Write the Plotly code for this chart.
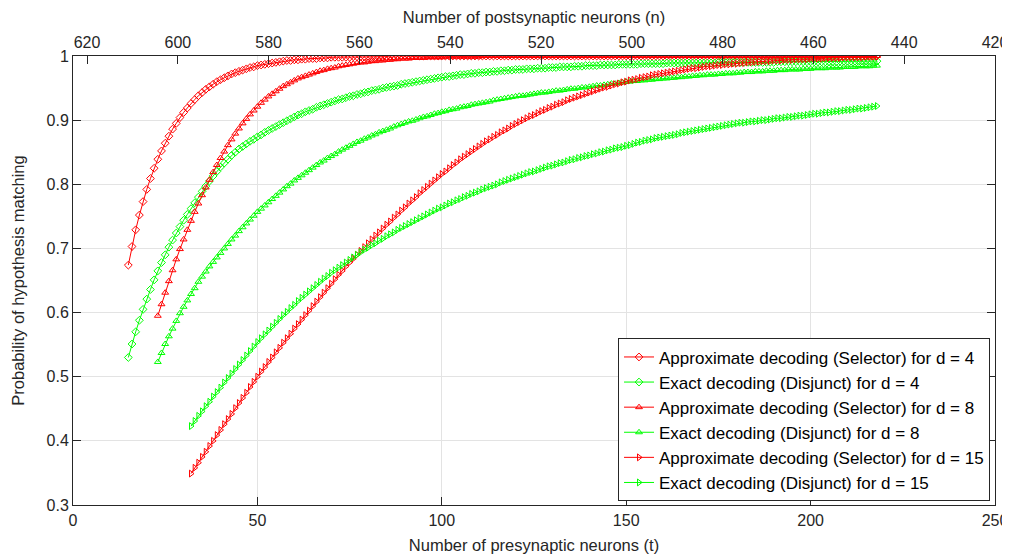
import plotly.graph_objects as go

# ---------------- data ----------------
t_start_d4 = 15
t_start_d8 = 23
t_start_d15 = 32

approx_d4 = [
    0.674, 0.703, 0.729, 0.752, 0.773, 0.792, 0.809, 0.825, 0.839, 0.852,  # 15-24
    0.864, 0.875, 0.886, 0.895, 0.904, 0.912, 0.919, 0.926, 0.932, 0.938,  # 25-34
    0.943, 0.948, 0.952, 0.956, 0.960, 0.963, 0.966, 0.969, 0.972, 0.974,  # 35-44
    0.976, 0.978, 0.980, 0.982, 0.983, 0.985, 0.986, 0.987, 0.988, 0.989,  # 45-54
    0.990, 0.991, 0.992, 0.993, 0.993, 0.994, 0.994, 0.995, 0.995, 0.996,  # 55-64
    0.996, 0.996, 0.997, 0.997, 0.997, 0.998, 0.998, 0.998, 0.998, 0.998,  # 65-74
    0.998, 0.999, 0.999, 0.999, 0.999, 0.999, 0.999, 0.999, 0.999, 0.999,  # 75-84
    0.999, 1.0, 1.0, 1.0, 1.0, 1.0, 1.0, 1.0, 1.0, 1.0,  # 85-94
    1.0, 1.0, 1.0, 1.0, 1.0, 1.0, 1.0, 1.0, 1.0, 1.0,  # 95-104
    1.0, 1.0, 1.0, 1.0, 1.0, 1.0, 1.0, 1.0, 1.0, 1.0,  # 105-114
    1.0, 1.0, 1.0, 1.0, 1.0, 1.0, 1.0, 1.0, 1.0, 1.0,  # 115-124
    1.0, 1.0, 1.0, 1.0, 1.0, 1.0, 1.0, 1.0, 1.0, 1.0,  # 125-134
    1.0, 1.0, 1.0, 1.0, 1.0, 1.0, 1.0, 1.0, 1.0, 1.0,  # 135-144
    1.0, 1.0, 1.0, 1.0, 1.0, 1.0, 1.0, 1.0, 1.0, 1.0,  # 145-154
    1.0, 1.0, 1.0, 1.0, 1.0, 1.0, 1.0, 1.0, 1.0, 1.0,  # 155-164
    1.0, 1.0, 1.0, 1.0, 1.0, 1.0, 1.0, 1.0, 1.0, 1.0,  # 165-174
    1.0, 1.0, 1.0, 1.0, 1.0, 1.0, 1.0, 1.0, 1.0, 1.0,  # 175-184
    1.0, 1.0, 1.0, 1.0, 1.0, 1.0, 1.0, 1.0, 1.0, 1.0,  # 185-194
    1.0, 1.0, 1.0, 1.0, 1.0, 1.0, 1.0, 1.0, 1.0, 1.0,  # 195-204
    1.0, 1.0, 1.0, 1.0, 1.0, 1.0, 1.0, 1.0, 1.0, 1.0,  # 205-214
    1.0, 1.0, 1.0, 1.0,  # 215-218
]

exact_d4 = [
    0.530, 0.551, 0.570, 0.588, 0.605, 0.621, 0.636, 0.651, 0.665, 0.678,  # 15-24
    0.690, 0.702, 0.713, 0.724, 0.734, 0.744, 0.753, 0.762, 0.771, 0.780,  # 25-34
    0.789, 0.797, 0.805, 0.813, 0.820, 0.827, 0.833, 0.839, 0.845, 0.850,  # 35-44
    0.855, 0.859, 0.863, 0.867, 0.870, 0.874, 0.877, 0.881, 0.884, 0.887,  # 45-54
    0.890, 0.893, 0.896, 0.899, 0.902, 0.905, 0.908, 0.910, 0.913, 0.915,  # 55-64
    0.917, 0.920, 0.922, 0.924, 0.926, 0.928, 0.930, 0.932, 0.933, 0.935,  # 65-74
    0.937, 0.938, 0.940, 0.941, 0.943, 0.944, 0.946, 0.947, 0.948, 0.950,  # 75-84
    0.951, 0.952, 0.953, 0.954, 0.956, 0.957, 0.958, 0.959, 0.960, 0.961,  # 85-94
    0.962, 0.963, 0.964, 0.965, 0.966, 0.967, 0.968, 0.968, 0.969, 0.970,  # 95-104
    0.971, 0.971, 0.972, 0.973, 0.973, 0.974, 0.974, 0.975, 0.975, 0.976,  # 105-114
    0.976, 0.977, 0.977, 0.978, 0.978, 0.979, 0.979, 0.979, 0.980, 0.980,  # 115-124
    0.980, 0.981, 0.981, 0.981, 0.982, 0.982, 0.982, 0.983, 0.983, 0.983,  # 125-134
    0.983, 0.984, 0.984, 0.984, 0.985, 0.985, 0.985, 0.985, 0.986, 0.986,  # 135-144
    0.986, 0.986, 0.986, 0.987, 0.987, 0.987, 0.987, 0.987, 0.987, 0.988,  # 145-154
    0.988, 0.988, 0.988, 0.988, 0.988, 0.988, 0.989, 0.989, 0.989, 0.989,  # 155-164
    0.989, 0.989, 0.989, 0.989, 0.989, 0.989, 0.989, 0.989, 0.989, 0.989,  # 165-174
    0.990, 0.990, 0.990, 0.990, 0.990, 0.990, 0.990, 0.990, 0.990, 0.990,  # 175-184
    0.990, 0.990, 0.990, 0.990, 0.990, 0.990, 0.991, 0.991, 0.991, 0.991,  # 185-194
    0.991, 0.991, 0.991, 0.991, 0.991, 0.991, 0.991, 0.991, 0.991, 0.991,  # 195-204
    0.991, 0.991, 0.991, 0.992, 0.992, 0.992, 0.992, 0.992, 0.992, 0.992,  # 205-214
    0.992, 0.992, 0.992, 0.992,  # 215-218
]

approx_d8 = [
    0.595, 0.613, 0.631, 0.649, 0.666, 0.683, 0.699, 0.714, 0.729, 0.743,  # 23-32
    0.757, 0.770, 0.783, 0.795, 0.807, 0.819, 0.830, 0.841, 0.851, 0.861,  # 33-42
    0.870, 0.879, 0.887, 0.895, 0.902, 0.909, 0.915, 0.921, 0.927, 0.932,  # 43-52
    0.937, 0.941, 0.945, 0.949, 0.953, 0.956, 0.959, 0.962, 0.965, 0.967,  # 53-62
    0.969, 0.971, 0.973, 0.975, 0.977, 0.978, 0.980, 0.981, 0.982, 0.984,  # 63-72
    0.985, 0.986, 0.987, 0.988, 0.989, 0.990, 0.990, 0.991, 0.992, 0.992,  # 73-82
    0.993, 0.993, 0.994, 0.994, 0.995, 0.995, 0.996, 0.996, 0.996, 0.997,  # 83-92
    0.997, 0.997, 0.997, 0.998, 0.998, 0.998, 0.998, 0.998, 0.999, 0.999,  # 93-102
    0.999, 0.999, 0.999, 0.999, 0.999, 0.999, 0.999, 0.999, 1.0, 1.0,  # 103-112
    1.0, 1.0, 1.0, 1.0, 1.0, 1.0, 1.0, 1.0, 1.0, 1.0,  # 113-122
    1.0, 1.0, 1.0, 1.0, 1.0, 1.0, 1.0, 1.0, 1.0, 1.0,  # 123-132
    1.0, 1.0, 1.0, 1.0, 1.0, 1.0, 1.0, 1.0, 1.0, 1.0,  # 133-142
    1.0, 1.0, 1.0, 1.0, 1.0, 1.0, 1.0, 1.0, 1.0, 1.0,  # 143-152
    1.0, 1.0, 1.0, 1.0, 1.0, 1.0, 1.0, 1.0, 1.0, 1.0,  # 153-162
    1.0, 1.0, 1.0, 1.0, 1.0, 1.0, 1.0, 1.0, 1.0, 1.0,  # 163-172
    1.0, 1.0, 1.0, 1.0, 1.0, 1.0, 1.0, 1.0, 1.0, 1.0,  # 173-182
    1.0, 1.0, 1.0, 1.0, 1.0, 1.0, 1.0, 1.0, 1.0, 1.0,  # 183-192
    1.0, 1.0, 1.0, 1.0, 1.0, 1.0, 1.0, 1.0, 1.0, 1.0,  # 193-202
    1.0, 1.0, 1.0, 1.0, 1.0, 1.0, 1.0, 1.0, 1.0, 1.0,  # 203-212
    1.0, 1.0, 1.0, 1.0, 1.0, 1.0,  # 213-218
]

exact_d8 = [
    0.523, 0.537, 0.551, 0.563, 0.575, 0.587, 0.599, 0.609, 0.619, 0.629,  # 23-32
    0.638, 0.648, 0.656, 0.664, 0.672, 0.679, 0.686, 0.693, 0.700, 0.707,  # 33-42
    0.714, 0.720, 0.727, 0.733, 0.739, 0.745, 0.751, 0.757, 0.762, 0.767,  # 43-52
    0.772, 0.777, 0.782, 0.787, 0.792, 0.797, 0.801, 0.806, 0.810, 0.814,  # 53-62
    0.818, 0.822, 0.826, 0.830, 0.834, 0.837, 0.841, 0.844, 0.847, 0.851,  # 63-72
    0.854, 0.857, 0.860, 0.863, 0.866, 0.868, 0.871, 0.873, 0.876, 0.878,  # 73-82
    0.881, 0.883, 0.885, 0.887, 0.890, 0.892, 0.894, 0.896, 0.898, 0.899,  # 83-92
    0.901, 0.903, 0.905, 0.906, 0.908, 0.910, 0.911, 0.913, 0.914, 0.916,  # 93-102
    0.917, 0.918, 0.920, 0.921, 0.922, 0.924, 0.925, 0.926, 0.927, 0.928,  # 103-112
    0.929, 0.931, 0.932, 0.933, 0.934, 0.935, 0.936, 0.937, 0.938, 0.938,  # 113-122
    0.939, 0.940, 0.941, 0.942, 0.943, 0.943, 0.944, 0.945, 0.946, 0.946,  # 123-132
    0.947, 0.948, 0.949, 0.949, 0.950, 0.951, 0.951, 0.952, 0.953, 0.954,  # 133-142
    0.954, 0.955, 0.956, 0.957, 0.957, 0.958, 0.959, 0.960, 0.960, 0.961,  # 143-152
    0.961, 0.962, 0.962, 0.963, 0.963, 0.964, 0.964, 0.965, 0.965, 0.966,  # 153-162
    0.966, 0.967, 0.967, 0.968, 0.968, 0.969, 0.969, 0.970, 0.970, 0.971,  # 163-172
    0.971, 0.971, 0.972, 0.972, 0.973, 0.973, 0.973, 0.974, 0.974, 0.975,  # 173-182
    0.975, 0.975, 0.976, 0.976, 0.976, 0.977, 0.977, 0.977, 0.978, 0.978,  # 183-192
    0.978, 0.979, 0.979, 0.979, 0.979, 0.980, 0.980, 0.980, 0.981, 0.981,  # 193-202
    0.981, 0.981, 0.982, 0.982, 0.982, 0.982, 0.983, 0.983, 0.983, 0.983,  # 203-212
    0.984, 0.984, 0.984, 0.984, 0.985, 0.985,  # 213-218
]

approx_d15 = [
    0.349, 0.358, 0.366, 0.375, 0.383, 0.392, 0.400, 0.409, 0.417, 0.426,  # 32-41
    0.434, 0.442, 0.451, 0.459, 0.467, 0.475, 0.484, 0.492, 0.500, 0.508,  # 42-51
    0.515, 0.523, 0.530, 0.538, 0.545, 0.553, 0.560, 0.567, 0.575, 0.582,  # 52-61
    0.589, 0.596, 0.603, 0.610, 0.617, 0.624, 0.631, 0.638, 0.645, 0.652,  # 62-71
    0.659, 0.665, 0.672, 0.678, 0.684, 0.690, 0.696, 0.702, 0.708, 0.714,  # 72-81
    0.720, 0.725, 0.731, 0.737, 0.742, 0.748, 0.753, 0.759, 0.764, 0.770,  # 82-91
    0.775, 0.780, 0.786, 0.791, 0.796, 0.801, 0.806, 0.811, 0.816, 0.820,  # 92-101
    0.825, 0.830, 0.834, 0.839, 0.843, 0.847, 0.851, 0.855, 0.859, 0.863,  # 102-111
    0.867, 0.870, 0.874, 0.877, 0.881, 0.884, 0.887, 0.891, 0.894, 0.897,  # 112-121
    0.900, 0.903, 0.906, 0.908, 0.911, 0.914, 0.916, 0.919, 0.921, 0.924,  # 122-131
    0.926, 0.928, 0.931, 0.933, 0.935, 0.937, 0.939, 0.941, 0.943, 0.945,  # 132-141
    0.947, 0.949, 0.951, 0.952, 0.954, 0.956, 0.957, 0.959, 0.960, 0.962,  # 142-151
    0.963, 0.964, 0.966, 0.967, 0.968, 0.970, 0.971, 0.972, 0.973, 0.974,  # 152-161
    0.975, 0.976, 0.977, 0.978, 0.979, 0.980, 0.981, 0.981, 0.982, 0.983,  # 162-171
    0.984, 0.984, 0.985, 0.986, 0.986, 0.987, 0.987, 0.988, 0.988, 0.989,  # 172-181
    0.989, 0.990, 0.990, 0.991, 0.991, 0.992, 0.992, 0.992, 0.993, 0.993,  # 182-191
    0.993, 0.994, 0.994, 0.994, 0.995, 0.995, 0.995, 0.995, 0.996, 0.996,  # 192-201
    0.996, 0.996, 0.997, 0.997, 0.997, 0.997, 0.997, 0.998, 0.998, 0.998,  # 202-211
    0.998, 0.998, 0.998, 0.999, 0.999, 0.999, 0.999,  # 212-218
]

exact_d15 = [
    0.423, 0.431, 0.439, 0.446, 0.454, 0.461, 0.469, 0.476, 0.483, 0.491,  # 32-41
    0.498, 0.505, 0.512, 0.519, 0.526, 0.533, 0.540, 0.547, 0.554, 0.560,  # 42-51
    0.566, 0.572, 0.578, 0.584, 0.590, 0.596, 0.601, 0.607, 0.612, 0.618,  # 52-61
    0.623, 0.628, 0.633, 0.638, 0.643, 0.648, 0.653, 0.657, 0.662, 0.666,  # 62-71
    0.670, 0.674, 0.678, 0.682, 0.686, 0.690, 0.694, 0.698, 0.701, 0.705,  # 72-81
    0.708, 0.712, 0.715, 0.719, 0.722, 0.725, 0.729, 0.732, 0.735, 0.738,  # 82-91
    0.741, 0.744, 0.747, 0.750, 0.753, 0.756, 0.759, 0.762, 0.764, 0.767,  # 92-101
    0.770, 0.772, 0.775, 0.777, 0.780, 0.782, 0.785, 0.787, 0.789, 0.792,  # 102-111
    0.794, 0.796, 0.798, 0.800, 0.803, 0.805, 0.807, 0.809, 0.811, 0.813,  # 112-121
    0.815, 0.817, 0.819, 0.820, 0.822, 0.824, 0.826, 0.828, 0.829, 0.831,  # 122-131
    0.833, 0.834, 0.836, 0.838, 0.839, 0.841, 0.842, 0.844, 0.845, 0.847,  # 132-141
    0.848, 0.850, 0.851, 0.853, 0.854, 0.856, 0.857, 0.858, 0.860, 0.861,  # 142-151
    0.863, 0.865, 0.866, 0.868, 0.869, 0.870, 0.872, 0.873, 0.874, 0.875,  # 152-161
    0.876, 0.877, 0.878, 0.880, 0.881, 0.882, 0.883, 0.884, 0.885, 0.886,  # 162-171
    0.887, 0.888, 0.889, 0.890, 0.891, 0.892, 0.893, 0.894, 0.895, 0.896,  # 172-181
    0.896, 0.897, 0.898, 0.898, 0.899, 0.900, 0.900, 0.901, 0.902, 0.903,  # 182-191
    0.903, 0.904, 0.905, 0.905, 0.906, 0.907, 0.907, 0.908, 0.909, 0.910,  # 192-201
    0.910, 0.911, 0.912, 0.912, 0.913, 0.914, 0.914, 0.915, 0.916, 0.916,  # 202-211
    0.917, 0.918, 0.918, 0.919, 0.920, 0.921, 0.922,  # 212-218
]

series_names = [
    "Approximate decoding (Selector) for d = 4",
    "Exact decoding (Disjunct) for d = 4",
    "Approximate decoding (Selector) for d = 8",
    "Exact decoding (Disjunct) for d = 8",
    "Approximate decoding (Selector) for d = 15",
    "Exact decoding (Disjunct) for d = 15",
]

x_ticks = [0, 50, 100, 150, 200, 250]
y_ticks = [0.3, 0.4, 0.5, 0.6, 0.7, 0.8, 0.9, 1.0]
y_tick_labels = ["0.3", "0.4", "0.5", "0.6", "0.7", "0.8", "0.9", "1"]
n_ticks = [620, 600, 580, 560, 540, 520, 500, 480, 460, 440, 420]

# ---------------- styling ----------------
RED = "#FF0000"
GREEN = "#00FF00"
AX = "#262626"
GRID = "#E3E3E3"
FONT = "Liberation Sans, Arial, Helvetica, sans-serif"
TICK_SIZE = 16
TITLE_SIZE = 16.5

series = [
    (t_start_d4, approx_d4, RED, "diamond-open"),
    (t_start_d4, exact_d4, GREEN, "diamond-open"),
    (t_start_d8, approx_d8, RED, "triangle-up-open"),
    (t_start_d8, exact_d8, GREEN, "triangle-up-open"),
    (t_start_d15, approx_d15, RED, "triangle-right-open"),
    (t_start_d15, exact_d15, GREEN, "triangle-right-open"),
]

fig = go.Figure()
for name, (t0, vals, col, sym) in zip(series_names, series):
    tt = list(range(t0, t0 + len(vals)))
    fig.add_trace(go.Scatter(
        x=tt, y=vals, name=name, mode="lines+markers",
        line=dict(color=col, width=1),
        marker=dict(symbol=sym, size=6, color=col, line=dict(width=1, color=col)),
    ))

# invisible trace so the top (n) axis is drawn
fig.add_trace(go.Scatter(x=n_ticks, y=[None] * len(n_ticks), xaxis="x2",
                         showlegend=False, hoverinfo="skip", mode="markers"))

# the page body adds an 8 px offset, so the figure is 8 px smaller than the window
fig.update_layout(
    width=1002, height=549,
    margin=dict(l=65, r=15, t=48, b=52),
    paper_bgcolor="white", plot_bgcolor="white",
    font=dict(family=FONT, size=TICK_SIZE, color=AX),
    showlegend=True,
    legend=dict(
        x=0.9946, y=0.008, xanchor="right", yanchor="bottom",
        bgcolor="white", bordercolor=AX, borderwidth=1,
        font=dict(family=FONT, size=17, color="black"),
        tracegroupgap=0, itemwidth=30,
    ),
    xaxis=dict(
        range=[0, 250], tickvals=x_ticks, ticks="inside", ticklen=8,
        tickcolor=AX, showline=True, linecolor=AX, linewidth=1,
        showgrid=True, gridcolor=GRID, zeroline=False, mirror=False,
        automargin=False, ticklabelstandoff=1,
        tickfont=dict(size=TICK_SIZE, color=AX),
        title=dict(text="Number of presynaptic neurons (t)", font=dict(size=TITLE_SIZE, color=AX), standoff=11),
    ),
    xaxis2=dict(
        overlaying="x", side="top", anchor="y",
        range=[623.1, 420], tickvals=n_ticks, ticks="inside", ticklen=8,
        tickcolor=AX, showline=True, linecolor=AX, linewidth=1,
        showgrid=False, zeroline=False, automargin=False, ticklabelstandoff=1,
        tickfont=dict(size=TICK_SIZE, color=AX),
        title=dict(text="Number of postsynaptic neurons (n)", font=dict(size=TITLE_SIZE, color=AX), standoff=13),
    ),
    yaxis=dict(
        range=[0.3, 1.0], tickvals=y_ticks, ticktext=y_tick_labels,
        ticks="inside", ticklen=8, tickcolor=AX,
        showline=True, linecolor=AX, linewidth=1, mirror="ticks",
        showgrid=True, gridcolor=GRID, zeroline=False, automargin=False,
        tickfont=dict(size=TICK_SIZE, color=AX),
        title=dict(text="Probability of hypothesis matching", font=dict(size=TITLE_SIZE, color=AX), standoff=17),
    ),
)

fig.write_html("out.html")
